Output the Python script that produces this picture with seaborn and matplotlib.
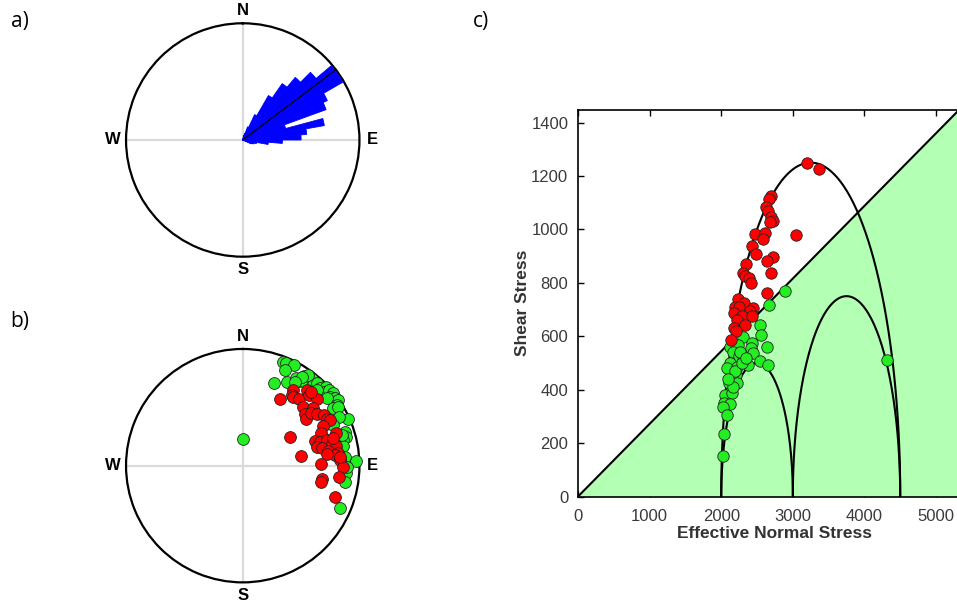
import numpy as np
import pandas as pd
import matplotlib
matplotlib.use("Agg")
import matplotlib.pyplot as plt
import seaborn as sns

sns.set_theme(style="white")
plt.rcParams["font.family"] = ["Liberation Sans", "DejaVu Sans"]

# ---------------- data ----------------
# a) rose diagram: 5-degree azimuth bins (start angle) and normalised petal length
rose_bin_start = [10, 15, 20, 25, 30, 35, 40, 45, 50, 55, 60, 65, 70, 75, 80, 85, 90, 95, 100, 105, 110]
rose_length = [0.04, 0.06, 0.12, 0.24, 0.44, 0.59, 0.70, 0.82, 0.99, 0.99, 0.80, 0.76, 0.38, 0.71,
               0.55, 0.50, 0.34, 0.22, 0.12, 0.10, 0.08]
rose_bin_width = 5
mean_direction = 53

# b) stereonet poles (east, north as fraction of net radius)
green_east = [0.000, 0.343, 0.371, 0.443, 0.366, 0.269, 0.383, 0.457, 0.526, 0.486, 0.534, 0.591,
              0.606, 0.634, 0.663, 0.714, 0.697, 0.743, 0.777, 0.749, 0.791, 0.820, 0.806, 0.777,
              0.820, 0.906, 0.829, 0.777, 0.877, 0.886, 0.863, 0.863, 0.971, 0.877, 0.886, 0.877,
              0.834, 0.563, 0.506, 0.449, 0.634, 0.726, 0.849, 0.891]
green_north = [0.226, 0.891, 0.883, 0.863, 0.820, 0.711, 0.720, 0.749, 0.769, 0.729, 0.720, 0.740,
               0.691, 0.706, 0.663, 0.677, 0.634, 0.649, 0.626, 0.591, 0.577, 0.563, 0.520, 0.491,
               0.500, 0.397, 0.420, 0.349, 0.291, 0.249, 0.220, 0.169, 0.043, 0.071, -0.066, -0.137,
               -0.366, 0.777, 0.757, 0.720, 0.649, 0.577, 0.263, -0.009]
red_east = [0.320, 0.429, 0.420, 0.434, 0.480, 0.549, 0.571, 0.634, 0.583, 0.520, 0.606, 0.534,
            0.543, 0.583, 0.640, 0.697, 0.720, 0.749, 0.691, 0.671, 0.800, 0.406, 0.620, 0.663,
            0.720, 0.763, 0.800, 0.634, 0.677, 0.734, 0.820, 0.791, 0.726, 0.834, 0.857, 0.834,
            0.503, 0.669, 0.677, 0.669, 0.829, 0.794, 0.771]
red_north = [0.569, 0.649, 0.606, 0.586, 0.574, 0.649, 0.606, 0.569, 0.634, 0.500, 0.491, 0.443,
             0.397, 0.449, 0.440, 0.434, 0.397, 0.391, 0.340, 0.277, 0.277, 0.243, 0.214, 0.206,
             0.220, 0.186, 0.169, 0.163, 0.149, 0.129, 0.106, 0.091, 0.100, 0.049, -0.009, 0.077,
             0.083, 0.014, -0.117, -0.143, -0.094, -0.271, 0.234]

# c) Mohr diagram
principal_stresses = [2000, 3000, 4500]   # sigma3, sigma2, sigma1 (effective)
friction_coefficient = 0.272
red_normal = [3203, 3371, 2691, 2672, 2626, 2658, 2700, 2728, 2682, 2467, 2616, 2588, 3045, 2425,
              2486, 2728, 2644, 2346, 2700, 2309, 2333, 2393, 2412, 2644, 2239, 2318, 2193, 2253,
              2440, 2402, 2179, 2286, 2425, 2216, 2333, 2179, 2207, 2141]
red_shear = [1248, 1225, 1126, 1113, 1085, 1069, 1046, 1033, 1026, 981, 988, 963, 979, 938,
             906, 898, 881, 871, 838, 836, 826, 817, 801, 763, 738, 726, 711, 709,
             705, 696, 686, 676, 674, 661, 642, 630, 621, 586]
green_normal = [2891, 2672, 2542, 2551, 2309, 2123, 2239, 2425, 2412, 2644, 2170, 2253, 2449, 2309,
                2542, 2654, 2379, 2123, 2076, 2216, 2207, 2114, 2216, 2053, 2146, 2039, 2123, 2030,
                2086, 2039, 2020, 4311, 2190, 2265, 2160, 2100, 2290, 2350]
green_shear = [771, 717, 642, 605, 599, 559, 567, 574, 555, 561, 542, 526, 536, 511,
               509, 493, 493, 499, 480, 486, 455, 424, 424, 380, 386, 349, 346, 336,
               305, 233, 152, 511, 470, 540, 410, 440, 500, 520]
x_ticks = [0, 1000, 2000, 3000, 4000, 5000]
y_ticks = [0, 200, 400, 600, 800, 1000, 1200, 1400]

RED = "#ff0000"
GREEN = "#22ee22"
EDGE = "#222222"

fig = plt.figure(figsize=(9.57, 6.03), dpi=100)
fig.patch.set_facecolor("white")


def style_net(ax):
    ax.set_theta_zero_location("N")
    ax.set_theta_direction(-1)
    ax.set_ylim(0, 1)
    ax.set_yticks([])
    ax.set_xticks(np.deg2rad([0, 90, 180, 270]))
    ax.set_xticklabels([])
    ax.xaxis.grid(True, color="#dadada", linewidth=1.6)
    ax.yaxis.grid(False)
    ax.spines["polar"].set_linewidth(1.6)
    ax.spines["polar"].set_color("black")
    ax.set_facecolor("white")
    for ang, lab in zip([0, 90, 180, 270], ["N", "E", "S", "W"]):
        ax.text(np.deg2rad(ang), 1.11, lab, ha="center", va="center", fontsize=12,
                fontweight="bold", color="black", clip_on=False)


# ---- a) rose ----
ax_a = fig.add_axes([0.1317, 0.5743, 0.2439, 0.3871], projection="polar")
style_net(ax_a)
centers = np.deg2rad(np.array(rose_bin_start) + rose_bin_width / 2)
ax_a.bar(centers, rose_length, width=np.deg2rad(rose_bin_width), bottom=0,
         color="#0000ff", edgecolor="#0000ff", linewidth=0.6, zorder=3)
ax_a.plot([np.deg2rad(mean_direction)] * 2, [0, 1], color="black", lw=0.9, zorder=4)

# ---- b) stereonet ----
ax_b = fig.add_axes([0.1317, 0.0342, 0.2439, 0.3871], projection="polar")
style_net(ax_b)
df_g = pd.DataFrame({"e": green_east, "n": green_north})
df_r = pd.DataFrame({"e": red_east, "n": red_north})
for df in (df_g, df_r):
    df["theta"] = np.arctan2(df["e"], df["n"])
    df["r"] = np.hypot(df["e"], df["n"])
sns.scatterplot(data=df_g, x="theta", y="r", ax=ax_b, color=GREEN, s=72,
                edgecolor=EDGE, linewidth=0.6, zorder=5, legend=False, clip_on=False)
sns.scatterplot(data=df_r, x="theta", y="r", ax=ax_b, color=RED, s=72,
                edgecolor=EDGE, linewidth=0.6, zorder=6, legend=False, clip_on=False)
ax_b.set_xlabel("")
ax_b.set_ylabel("")
ax_b.set_ylim(0, 1)

# ---- c) Mohr diagram ----
ax_c = fig.add_axes([0.604, 0.1766, 0.4115, 0.641])
xmax, ymax = 5500, 1447
xs = np.linspace(0, xmax, 200)
ax_c.fill_between(xs, 0, friction_coefficient * xs, color="#b3ffb3", lw=0, zorder=1)
ax_c.plot(xs, friction_coefficient * xs, color="black", lw=1.5, zorder=2)
s3, s2, s1 = principal_stresses
t = np.linspace(0, np.pi, 400)
for lo, hi in [(s3, s1), (s3, s2), (s2, s1)]:
    c, r = (lo + hi) / 2, (hi - lo) / 2
    ax_c.plot(c + r * np.cos(t), r * np.sin(t), color="black", lw=1.5, zorder=3)
df_cg = pd.DataFrame({"x": green_normal, "y": green_shear})
df_cr = pd.DataFrame({"x": red_normal, "y": red_shear})
sns.scatterplot(data=df_cg, x="x", y="y", ax=ax_c, color=GREEN, s=68,
                edgecolor=EDGE, linewidth=0.6, zorder=5, legend=False)
sns.scatterplot(data=df_cr, x="x", y="y", ax=ax_c, color=RED, s=68,
                edgecolor=EDGE, linewidth=0.6, zorder=6, legend=False)
ax_c.set_xlim(0, xmax)
ax_c.set_ylim(0, ymax)
ax_c.set_xticks(x_ticks)
ax_c.set_yticks(y_ticks)
ax_c.tick_params(direction="in", top=True, right=False, bottom=True, left=True,
                 length=4, width=1, color="black", labelcolor="#3a3a3a",
                 labelsize=12, pad=7)
ax_c.tick_params(axis="x", pad=9)
for sp in ax_c.spines.values():
    sp.set_color("black")
    sp.set_linewidth(1.2)
ax_c.set_xlabel("Effective Normal Stress", fontsize=12.5, fontweight="bold",
                color="#333333", labelpad=1.5)
ax_c.set_ylabel("Shear Stress", fontsize=12.5, fontweight="bold",
                color="#333333", labelpad=1)

# panel letters
for x, y, lab in [(20, 22, "a)"), (20, 322, "b)"), (481, 22, "c)")]:
    fig.text(x / 957, 1 - y / 603, lab, fontsize=15, ha="center", va="center",
             family=["Open Sans", "DejaVu Sans"], color="black")

fig.savefig("out.png", dpi=100)
